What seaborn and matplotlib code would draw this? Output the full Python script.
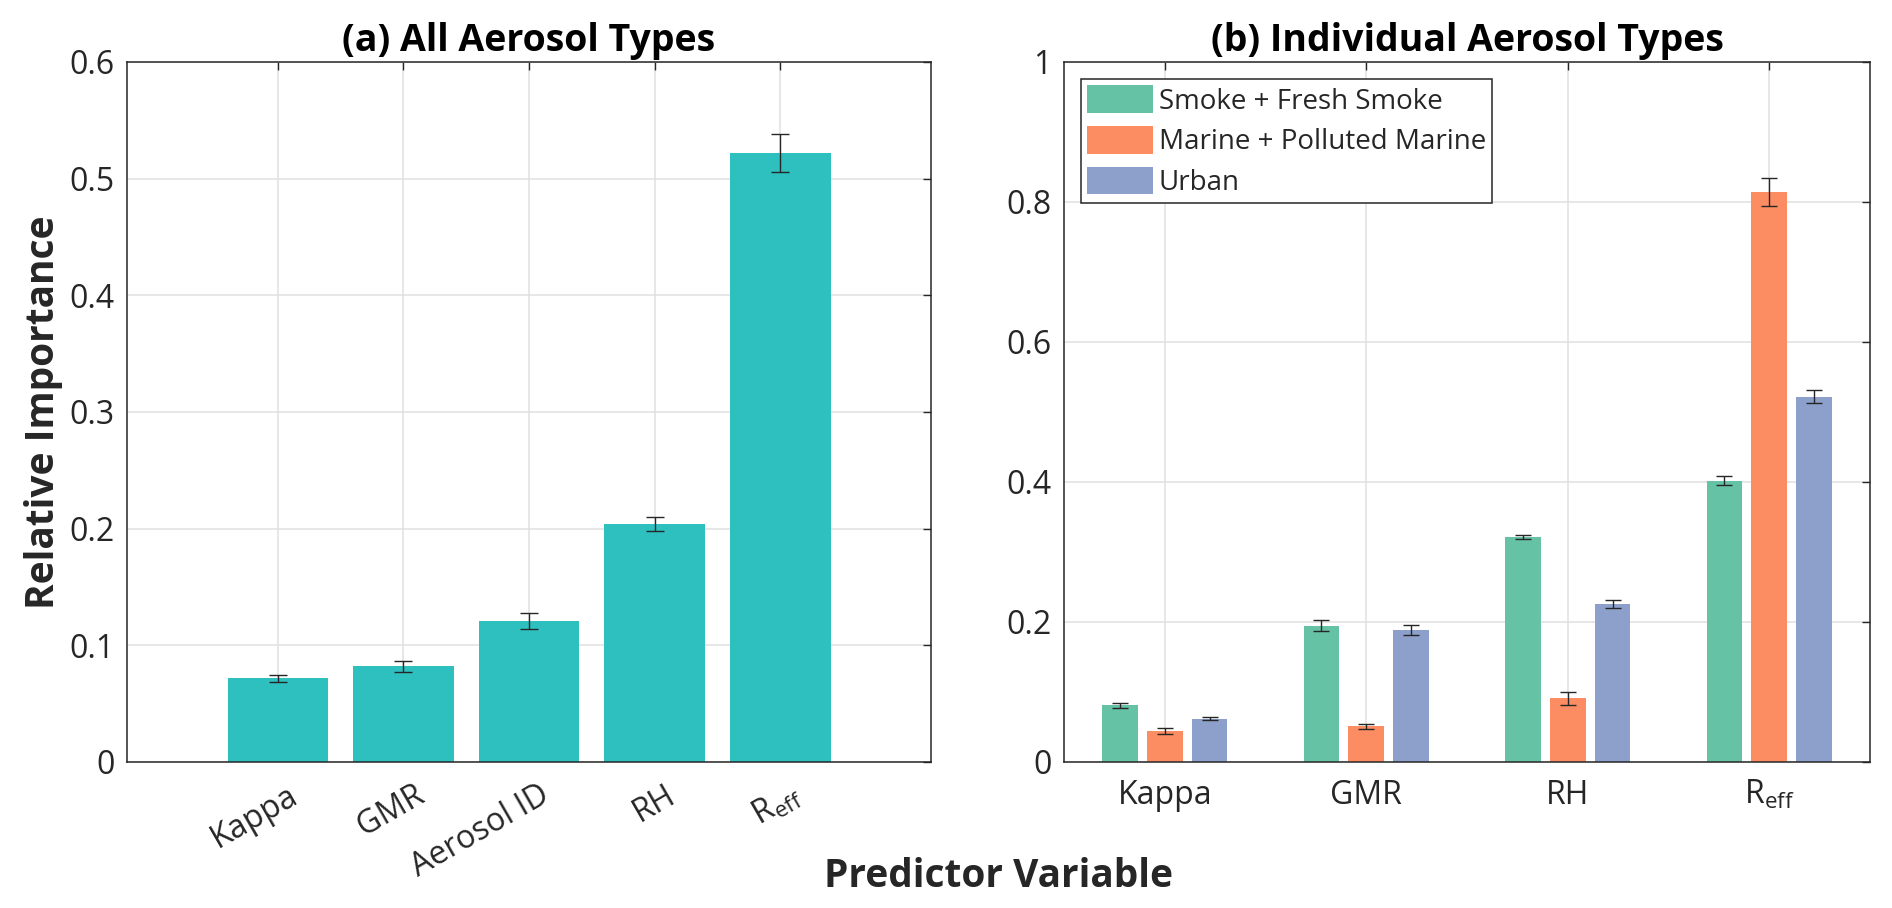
import numpy as np
import pandas as pd
import matplotlib
matplotlib.use("Agg")
import matplotlib.pyplot as plt
import matplotlib.transforms as mtransforms
from matplotlib.ticker import FuncFormatter
import seaborn as sns

# Values
predictors_all = ["Kappa", "GMR", "Aerosol ID", "RH", r"R$_{\mathregular{eff}}$"]
importance_all = [0.072, 0.082, 0.121, 0.204, 0.522]
error_all = [0.003, 0.005, 0.007, 0.006, 0.016]

predictors_types = ["Kappa", "GMR", "RH", r"R$_{\mathregular{eff}}$"]
aerosol_types = ["Smoke + Fresh Smoke", "Marine + Polluted Marine", "Urban"]
importance_smoke = [0.081, 0.195, 0.322, 0.402]
error_smoke = [0.0035, 0.0075, 0.003, 0.006]
importance_marine = [0.044, 0.051, 0.091, 0.815]
error_marine = [0.004, 0.004, 0.009, 0.020]
importance_urban = [0.062, 0.189, 0.226, 0.522]
error_urban = [0.002, 0.007, 0.006, 0.009]

TEAL = "#2ebfbf"
TYPE_COLORS = ["#66c2a5", "#fc8d62", "#8da0cb"]
DARK = "#262626"
TICK_SIZE = 23
LEGEND_SIZE = 20
TITLE_SIZE = 27
LABEL_SIZE = 28

sns.set_theme(style="whitegrid")
plt.rcParams['font.family'] = ['Open Sans', 'DejaVu Sans']
plt.rcParams['mathtext.fontset'] = 'custom'
plt.rcParams['mathtext.rm'] = 'Open Sans'


def style_axes(ax):
    """MATLAB-like boxed axes with inward ticks on all sides."""
    for spine in ax.spines.values():
        spine.set_visible(True)
        spine.set_color(DARK)
        spine.set_linewidth(1.1)
    ax.tick_params(direction='in', length=6, width=1, top=True, right=True,
                   color=DARK, labelcolor=DARK, labelsize=TICK_SIZE)
    ax.tick_params(axis='y', pad=9)
    ax.grid(True, color='#e0e0e0', linewidth=1.1)
    ax.set_axisbelow(True)
    ax.yaxis.set_major_formatter(FuncFormatter(lambda v, p: f"{v:g}"))
    ax.set_xlabel("")
    ax.set_ylabel("")


def add_errorbars(ax, bars, errors, capsize):
    for bar, err in zip(bars, errors):
        x = bar.get_x() + bar.get_width() / 2
        ax.errorbar(x, bar.get_height(), yerr=err, fmt='none', ecolor=DARK,
                    elinewidth=1.0, capsize=capsize, capthick=1.0, zorder=5)


fig = plt.figure(figsize=(18.92, 9.08), dpi=100)
ax1 = fig.add_axes([127 / 1892, 1 - 762 / 908, 804 / 1892, 700 / 908])
ax2 = fig.add_axes([1064 / 1892, 1 - 762 / 908, 806 / 1892, 700 / 908])

# (a) all aerosol types
df_all = pd.DataFrame({"Predictor": predictors_all, "Importance": importance_all})
sns.barplot(data=df_all, x="Predictor", y="Importance", color=TEAL, width=0.8,
            saturation=1, errorbar=None, linewidth=0, ax=ax1)
add_errorbars(ax1, ax1.containers[0], error_all, capsize=6.5)
style_axes(ax1)
ax1.set_xlim(-1.2, 5.2)
ax1.set_ylim(0, 0.6)
ax1.set_yticks(np.arange(0, 0.61, 0.1))
ax1.tick_params(axis='x', pad=12)
offset = mtransforms.ScaledTranslation(0.10, 0, fig.dpi_scale_trans)
for lab in ax1.get_xticklabels():
    lab.set_rotation(30)
    lab.set_ha('right')
    lab.set_va('top')
    lab.set_rotation_mode('anchor')
    lab.set_transform(lab.get_transform() + offset)
ax1.set_title("(a) All Aerosol Types", fontsize=TITLE_SIZE, fontweight='bold', pad=8, color='black')
ax1.set_ylabel("Relative Importance", fontsize=LABEL_SIZE, fontweight='bold', color=DARK)
ax1.yaxis.set_label_coords(-0.08, 0.5)

# (b) individual aerosol types
df_types = pd.DataFrame({
    "Predictor": predictors_types * 3,
    "Importance": importance_smoke + importance_marine + importance_urban,
    "Aerosol type": np.repeat(aerosol_types, len(predictors_types)),
})
sns.barplot(data=df_types, x="Predictor", y="Importance", hue="Aerosol type",
            hue_order=aerosol_types, palette=TYPE_COLORS, width=0.667, gap=0.2,
            saturation=1, errorbar=None, linewidth=0, ax=ax2)
for bars, errs in zip(ax2.containers, [error_smoke, error_marine, error_urban]):
    add_errorbars(ax2, bars, errs, capsize=5.5)
style_axes(ax2)
ax2.set_xlim(-0.5, 3.5)
ax2.set_ylim(0, 1)
ax2.set_yticks(np.arange(0, 1.01, 0.2))
ax2.tick_params(axis='x', pad=12)
ax2.set_title("(b) Individual Aerosol Types", fontsize=TITLE_SIZE, fontweight='bold', pad=8, color='black')
leg = ax2.legend(loc='upper left', fontsize=LEGEND_SIZE, frameon=True, fancybox=False,
                 edgecolor=DARK, framealpha=1, borderpad=0.22, labelspacing=0.38,
                 handlelength=2.37, handleheight=1.15, handletextpad=0.2,
                 borderaxespad=0.62, title=None)
leg.get_frame().set_linewidth(1.1)

fig.text(998 / 1892, 1 - 887 / 908, "Predictor Variable", ha='center', va='baseline',
         fontsize=LABEL_SIZE, fontweight='bold', color=DARK)

fig.savefig("out.png", dpi=100)
